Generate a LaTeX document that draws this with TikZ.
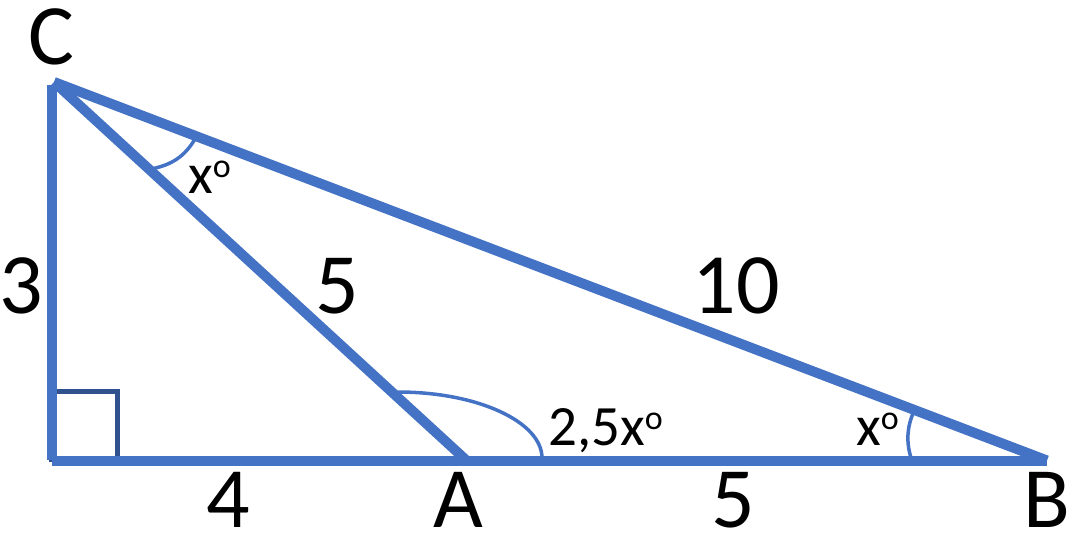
\documentclass[tikz,border=0pt]{standalone}
\usepackage{fontspec}
\setmainfont{Carlito}
\definecolor{triblue}{HTML}{4472C4}
\definecolor{sqblue}{HTML}{2F528F}
\begin{document}
\begin{tikzpicture}[x=1pt,y=-1pt,
  side/.style={draw=triblue,line width=10pt},
  anglemark/.style={draw=triblue,line width=3.5pt},
  biglab/.style={inner sep=0pt,anchor=base,font=\fontsize{86}{90}\selectfont},
  smalllab/.style={inner sep=0pt,anchor=base west,font=\fontsize{57}{60}\selectfont}]
\useasboundingbox (0,0) rectangle (1082,539);
\newcommand{\degsup}{\raisebox{16pt}{\fontsize{34}{34}\selectfont o}}
% vertices
\coordinate (C) at (54,82);
\coordinate (Ctop) at (51.5,85);
\coordinate (R) at (51.5,460);
\coordinate (R2) at (52,460.5);
\coordinate (A) at (466,460);
\coordinate (B) at (1047,460.5);
% angle marks
\draw[anglemark] (195,139) .. controls (184.8,156.2) and (172.2,164.8) .. (151,169);
\draw[anglemark] (398,392) .. controls (478,392) and (542,422) .. (542,458);
\draw[anglemark] (914,411) .. controls (907,427) and (906,441) .. (911,458);
% right-angle square
\draw[sqblue,line width=5pt] (51.5,391.5) rectangle (117.5,459.5);
% sides
\draw[side] (Ctop) -- (R);
\draw[side] (R2) -- (B);
\draw[side] (C) -- (A);
\draw[side] (C) -- (B);
% labels
\node[biglab] (lC) at (51,64) {C};
\node[biglab] (l3) at (21,313) {3};
\node[biglab] (l5a) at (337,313) {5};
\node[biglab] (l10) at (736,313) {10};
\node[biglab] (l4) at (228,527) {4};
\node[biglab] (lA) at (458,527) {A};
\node[biglab] (l5b) at (733,527) {5};
\node[biglab] (lB) at (1047,527) {B};
\node[smalllab] (xC) at (188,193) {x\degsup};
\node[smalllab] (xA) at (548,445) {2,5x\degsup};
\node[smalllab] (xB) at (856,445) {x\degsup};
\end{tikzpicture}
\end{document}
